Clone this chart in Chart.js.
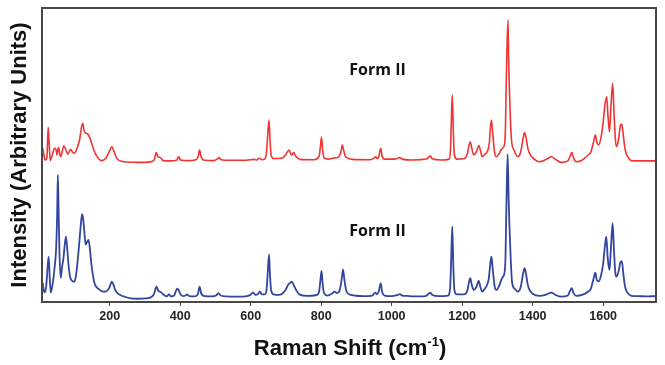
<!DOCTYPE html>
<html>
<head>
<meta charset="utf-8">
<script src="https://cdn.jsdelivr.net/npm/chart.js@4"></script>
<style>
html,body{margin:0;padding:0;background:#fff;}
canvas{display:block;}
</style>
</head>
<body>
<canvas id="c" width="665" height="365"></canvas>
<script>
// ---- Data ----
const xTicks = [200, 400, 600, 800, 1000, 1200, 1400, 1600];
const seriesLabels = ["Form II", "Form II"];

const redShift = [10,17,22,25.6,28.5,31.3,38.8,43.6,48.3,50.2,55,60.7,70,75.7,81.4,89,94.7,100.4,107.7,114.5,120.2,123.9,127.6,133.3,138,142.9,147.4,155,161.6,175.8,190,199.6,206.1,211.8,218.3,228,251.5,280,
300,320,327,332,337,342,346,352,370,390,396,401,420,445,451,455,459,466,495,505,510,516,540,580,600,610,618,624,632,640,645,648,652,655,658,665,690,700,709,713,716,722,728,740,780,794,798,801,804,808,820,834,848,856,860,864,870,890,940,951,955,959,964,966,969,973,980,1010,1023,1030,1060,1100,1110,1115,1140,1163,1167,1169,1172,1175,1178,1185,1205,1215,1219,1223,1227,1233,1240,1248,1252,1257,1264,1271,1277,1280,1283,1287,1292,1297,1305,1312,1318,1322,1326,1330,1332,1334,1337,1340,1348,1358,1366,1372,1377,1382,1386,1391,1400,1420,1440,1453,1465,1481,1500,1506,1511,1516,1524,1540,1557,1565,1572,1578,1582,1587,1594,1600,1605,1610,1614,1618,1622,1627,1631,1635,1638,1644,1649,1653,1657,1661,1665,1672,1680,1700,1720,1750];
const redIntensity = [52.3,48.3,49.4,59.4,53.4,48.1,50.7,52.3,51.7,50.0,52.6,49.4,53.1,51.7,50.3,51.9,51.0,50.6,52.4,55.1,59.5,60.8,58.2,57.4,57.1,56.1,54.5,51.7,50.0,48.1,49.0,51.4,52.8,51.4,49.3,48.1,47.6,47.5,
47.5,47.8,48.5,50.8,49.4,49.2,48.9,48.1,48.0,48.2,49.4,48.3,48.1,48.4,49.5,51.7,49.5,48.3,48.1,48.6,49.1,48.4,48.2,48.2,48.4,48.5,48.3,48.9,48.4,48.6,51,56,61.9,55,50,48.8,49.0,50.2,51.7,50.6,50.0,50.8,49.6,48.5,48.4,49.5,53,56,52,49,48.6,48.9,49.2,51,53.4,51.5,49.3,48.5,48.4,49.0,49.4,48.8,49.5,51,52.3,49.6,48.6,48.6,49.1,48.6,48.3,48.7,49.7,48.7,48.3,48.6,52,60,70.4,58,50,48.6,48.7,50.5,53,54.5,52.5,50.0,51,53.2,51.5,49.4,50.2,51.1,54,59,61.9,57,51,49.4,50.5,52,52.8,56,80,95.9,82,72.7,62,55.1,51.5,49.4,51,55,57.6,55.5,52.5,50.6,49.1,47.7,48.6,49.4,48.5,47.5,48.0,49.5,50.9,49.0,47.7,48.2,50.0,51,54,56.8,54.5,53.4,56,61,67,69.8,63,57.9,66,74.4,64,55,52.8,55.5,60,60.5,57,53,50.6,49,48.1,48.0,48.0,48.0];

const blueShift = [10,13,16,20,24,27,30,33,38,44,48,51,53,55,57.5,61,65,69,73,76,79,83,87,91,96,100,105,110,115,119,122,125,128,132,136,140,144,148,152,157,163,169,175,181,188,195,200,206,211,216,222,230,245,260,280,300,315,325,333,338,343,347,355,362,368,374,383,388,392,396,400,408,415,420,426,440,450,455,460,470,490,502,509,515,530,560,590,600,607,613,620,626,632,640,645,648,652,655,658,665,680,690,700,706,712,717,722,729,738,760,785,794,798,801,804,808,818,830,838,845,852,858,862,866,872,885,920,945,951,954,958,963,966,969,973,980,1000,1015,1023,1030,1044,1060,1095,1105,1110,1115,1135,1160,1166,1169,1172,1175,1178,1185,1205,1215,1219,1223,1227,1233,1240,1247,1252,1257,1264,1268,1275,1280,1283,1287,1292,1297,1305,1312,1316,1322,1326,1329,1332,1334,1338,1342,1350,1358,1366,1372,1377,1382,1386,1391,1400,1420,1440,1453,1465,1481,1500,1506,1511,1516,1524,1540,1557,1565,1572,1578,1582,1587,1594,1600,1605,1609,1613,1618,1622,1627,1631,1635,1638,1644,1649,1653,1657,1661,1665,1672,1680,1700,1720,1750];
const blueIntensity = [6.5,4.0,3.3,5.5,12,15.4,8,3.2,6,12,18,30,43.2,32,17,8.2,12,15,20,22.2,19,13,9,7.5,7.0,6.9,9.5,15,22,27.5,29.9,28,24,19.5,20.5,21.1,18,13,9.5,6.4,5,4.4,3.8,3.5,3.5,4.1,5.2,6.9,5.8,4.0,3.0,2.4,1.7,1.2,1.1,1.2,1.5,2.5,5.2,3.8,3.5,3.2,2.3,1.9,2.6,1.9,2.2,3.8,4.5,4.0,2.8,2.0,2.2,2.6,2.0,1.9,2.6,5.2,2.8,2.0,1.9,2.2,3.0,2.2,1.9,1.8,2.0,2.5,3.3,2.4,2.6,3.5,2.6,2.6,4,9,16.2,9,4,2.6,2.4,2.9,4.3,5.8,6.5,6.9,5.8,4.1,2.6,2.1,2.3,3.5,7.5,10.6,6.5,3.0,2.2,2.8,3.5,3.0,3.8,7.5,11.1,7.5,3.6,2.4,2.0,2.2,3.0,3.2,2.6,3.5,5,6.4,3.4,2.2,2.0,2.3,2.7,2.2,2.1,1.9,2.0,2.8,3.2,2.4,2.0,2.2,5,15,25.6,12,4,2.6,2.6,4,6.5,8.1,6.0,4.1,5.0,7.2,5.0,3.5,4.5,5.2,7.5,13,15.4,11,5.5,4.1,5.5,7.8,8.6,12,35,50.3,35,26.8,14,6.4,4.4,3.5,5,9,11.5,9,6,4.1,2.8,2.1,2.6,3.2,2.4,1.8,2.2,3.8,4.7,3.0,2.1,2.4,3.5,4.5,7.5,10.0,7.5,7.0,9,13,19,22.2,15,10.9,18,26.8,17,9.5,8.6,10.5,13.5,13.9,10,6,4.1,2.8,2.1,2.0,1.9,2.0];

const xMin = 8, xMax = 1750, yMin = 0, yMax = 100;

// ---- Chart ----
const toPts = (xs, ys) => xs.map((x, i) => ({x: x, y: ys[i]}));

const decor = {
  id: 'decor',
  afterDraw(chart) {
    const ctx = chart.ctx, a = chart.chartArea;
    const xs = chart.scales.x, ys = chart.scales.y;
    ctx.save();
    // frame
    ctx.strokeStyle = '#484848';
    ctx.lineWidth = 2;
    ctx.strokeRect(a.left, a.top, a.right - a.left, a.bottom - a.top);
    // series labels
    ctx.fillStyle = '#111';
    ctx.font = 'bold 16px "Open Sans", "Liberation Sans", sans-serif';
    ctx.textAlign = 'center';
    ctx.textBaseline = 'middle';
    ctx.fillText(seriesLabels[0], xs.getPixelForValue(960), ys.getPixelForValue(78.6));
    ctx.fillText(seriesLabels[1], xs.getPixelForValue(960), ys.getPixelForValue(23.9));
    // x title with superscript
    const main = 'Raman Shift (cm', sup = '-1', close = ')';
    const f1 = 'bold 22px "Liberation Sans", Arial, sans-serif';
    const f2 = 'bold 13px "Liberation Sans", Arial, sans-serif';
    ctx.font = f1; const w1 = ctx.measureText(main).width, w3 = ctx.measureText(close).width;
    ctx.font = f2; const w2 = ctx.measureText(sup).width;
    const total = w1 + w2 + w3;
    const cx = (a.left + a.right) / 2 + 1;
    let x0 = cx - total / 2;
    const base = 355;
    ctx.textAlign = 'left';
    ctx.textBaseline = 'alphabetic';
    ctx.font = f1; ctx.fillText(main, x0, base);
    ctx.font = f2; ctx.fillText(sup, x0 + w1, base - 9);
    ctx.font = f1; ctx.fillText(close, x0 + w1 + w2, base);
    // y title
    ctx.translate(26, (a.top + a.bottom) / 2);
    ctx.rotate(-Math.PI / 2);
    ctx.textAlign = 'center';
    ctx.font = f1;
    ctx.fillText('Intensity (Arbitrary Units)', 0, 0);
    ctx.restore();
  }
};

new Chart(document.getElementById('c'), {
  type: 'line',
  data: {
    datasets: [
      { label: seriesLabels[0], data: toPts(redShift, redIntensity), borderColor: 'rgb(240,52,52)', borderWidth: 1.6, pointRadius: 0, cubicInterpolationMode: 'monotone', fill: false },
      { label: seriesLabels[1], data: toPts(blueShift, blueIntensity), borderColor: 'rgb(50,70,160)', borderWidth: 1.8, pointRadius: 0, cubicInterpolationMode: 'monotone', fill: false }
    ]
  },
  options: {
    responsive: false,
    animation: false,
    devicePixelRatio: 1,
    layout: { padding: { left: 42, right: 9, top: 8, bottom: 0 } },
    plugins: { legend: { display: false }, tooltip: { enabled: false }, title: { display: false } },
    scales: {
      x: {
        type: 'linear', min: xMin, max: xMax,
        afterBuildTicks: s => { s.ticks = xTicks.map(v => ({ value: v })); },
        afterFit: s => { s.height = 63; },
        grid: { display: true, drawOnChartArea: false, drawTicks: true, tickLength: 4, color: '#484848', lineWidth: 1 },
        border: { display: false },
        ticks: { color: '#222', padding: 3, maxRotation: 0, callback: v => String(v), font: { family: '"Liberation Sans", Arial, sans-serif', size: 12.5, weight: 'bold' } }
      },
      y: { display: false, min: yMin, max: yMax }
    }
  },
  plugins: [decor]
});
</script>
</body>
</html>
